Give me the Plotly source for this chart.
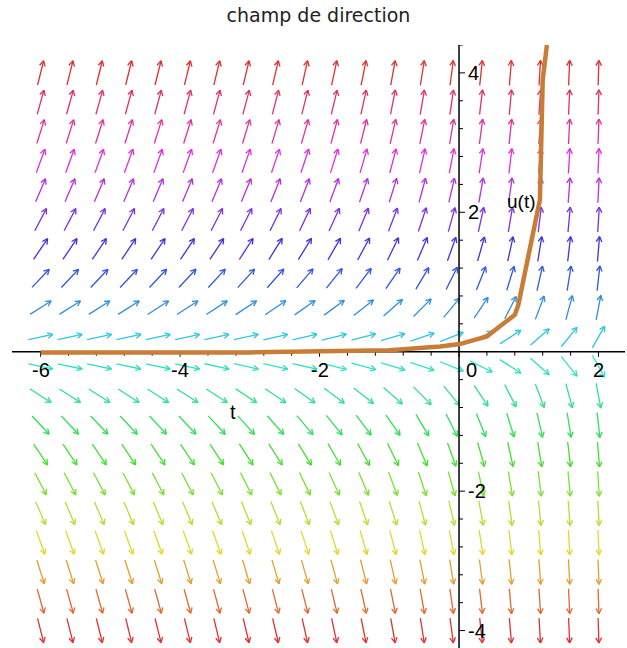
import math
import colorsys
import numpy as np
import plotly.graph_objects as go

# ---------------- data ----------------
# direction-field grid (20 x 20 arrows)
t_grid = list(np.linspace(-6, 2, 20))
u_grid = list(np.linspace(-4, 4, 20))


# ODE of the field: u'(t) = u * (1 + e^t)
def rhs(t, u):
    return u * (1.0 + math.exp(t))


# solution curve u(t)
sol_t = [-6.0, -3.0, -1.0, -0.5, -0.27, 0.01, 0.40, 0.80, 0.85, 1.16, 1.20, 1.26]
sol_u = [-0.01, -0.01, 0.02, 0.05, 0.076, 0.11, 0.22, 0.53, 0.67, 2.18, 3.90, 4.40]

x_tick_vals = [-6, -4, -2, 0, 2]
x_tick_text = ["-6", "-4", "-2", "0", "2"]
y_tick_vals = [-4, -2, 2, 4]
y_tick_text = ["-4", "-2", "2", "4"]

title_text = "champ de direction"
x_label = "t"
y_label = "u(t)"

# ---------------- layout constants ----------------
W, H = 627, 648
ml, mr, mt, mb = 12, 2, 45, 0
x_range = [-6.41, 2.38]
y_range = [-4.25, 4.40]
px_x = (W - ml - mr) / (x_range[1] - x_range[0])
px_y = (H - mt - mb) / (y_range[1] - y_range[0])

fig = go.Figure()

# ---------------- arrows ----------------
L = 25.0  # arrow length in px
HB = 6.0  # barb length px
ANG = math.radians(28)

for u in u_grid:
    hue = ((180 + 45 * u) % 360) / 360.0
    r, g, b = colorsys.hsv_to_rgb(hue, 0.78, 0.88)
    col = f"rgb({int(r*255)},{int(g*255)},{int(b*255)})"
    xs, ys = [], []
    for t in t_grid:
        s = rhs(t, u)
        # direction in pixel space
        dxp, dyp = 1.0, s * px_y / px_x
        n = math.hypot(dxp, dyp)
        dxp, dyp = dxp / n, dyp / n
        cx, cy = t, u
        tx, ty = cx - dxp * L / 2 / px_x, cy - dyp * L / 2 / px_y
        hx, hy = cx + dxp * L / 2 / px_x, cy + dyp * L / 2 / px_y
        xs += [tx, hx, None]
        ys += [ty, hy, None]
        base = math.atan2(dyp, dxp) + math.pi
        for sgn in (1, -1):
            a = base + sgn * ANG
            bx = hx + HB * math.cos(a) / px_x
            by = hy + HB * math.sin(a) / px_y
            xs += [hx, bx, None]
            ys += [hy, by, None]
    fig.add_trace(go.Scatter(x=xs, y=ys, mode="lines",
                             line=dict(color=col, width=1.3),
                             hoverinfo="skip", showlegend=False))

# ---------------- axes through origin ----------------
fig.add_trace(go.Scatter(x=[x_range[0], x_range[1]], y=[0, 0], mode="lines",
                         line=dict(color="black", width=1.5),
                         hoverinfo="skip", showlegend=False))
fig.add_trace(go.Scatter(x=[0, 0], y=[y_range[0], 4.4], mode="lines",
                         line=dict(color="black", width=1.5),
                         hoverinfo="skip", showlegend=False))

# minor/major ticks
tx, ty = [], []
for k in range(-15, 6):
    v = k * 0.4
    ln = 5 if abs(v - round(v / 2) * 2) < 1e-9 else 4
    tx += [v, v, None]
    ty += [0, -ln / px_y, None]
for k in range(-10, 12):
    v = k * 0.4
    if abs(v) < 1e-9:
        continue
    ln = 6 if abs(v - round(v / 2) * 2) < 1e-9 else 4
    tx += [0, ln / px_x, None]
    ty += [v, v, None]
fig.add_trace(go.Scatter(x=tx, y=ty, mode="lines",
                         line=dict(color="black", width=1),
                         hoverinfo="skip", showlegend=False))

# ---------------- solution curve ----------------
fig.add_trace(go.Scatter(x=sol_t, y=sol_u, mode="lines",
                         line=dict(color="rgb(200,125,55)", width=4.5),
                         hoverinfo="skip", showlegend=False))

# ---------------- tick labels ----------------
lab_font = dict(family="Liberation Sans, Arial, sans-serif", size=20, color="black")
ann = []
for v, tt in zip(x_tick_vals, x_tick_text):
    xx = v + (12 / px_x if v == 0 else 0)
    ann.append(dict(x=xx, y=-18 / px_y, text=tt, showarrow=False,
                    xanchor="center", yanchor="middle", font=lab_font))
for v, tt in zip(y_tick_vals, y_tick_text):
    ann.append(dict(x=7 / px_x, y=v, text=tt, showarrow=False,
                    xanchor="left", yanchor="middle", font=lab_font))
ann.append(dict(x=-3.24, y=-0.87, text=x_label, showarrow=False,
                xanchor="center", yanchor="middle", font=lab_font))
ann.append(dict(x=0.9, y=2.15, text=y_label, showarrow=False,
                xanchor="center", yanchor="middle",
                font=dict(family="Liberation Sans, Arial, sans-serif", size=19, color="black")))

fig.update_layout(
    width=W, height=H,
    margin=dict(l=ml, r=mr, t=mt, b=mb),
    paper_bgcolor="white", plot_bgcolor="white",
    title=dict(text=title_text, x=0.5, xref="paper", y=1 - 15 / H, yanchor="middle",
               xanchor="center",
               font=dict(family="DejaVu Sans, sans-serif", size=19, color="#222")),
    xaxis=dict(range=x_range, visible=False, fixedrange=True),
    yaxis=dict(range=y_range, visible=False, fixedrange=True),
    annotations=ann,
    showlegend=False,
)

fig.write_html("out.html")
